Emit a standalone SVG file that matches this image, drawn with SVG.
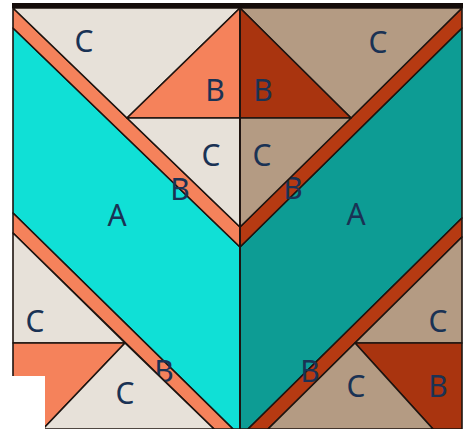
<svg xmlns="http://www.w3.org/2000/svg" width="469" height="429" viewBox="0 0 469 429">
<style>
.p{stroke:#1e1410;stroke-width:1.6;stroke-linejoin:round}
.beige{fill:#E7E1D9}.tan{fill:#B49B83}.orange{fill:#F5825B}.dred{fill:#A9340F}
.cyan{fill:#10E0D6}.teal{fill:#0D9C94}.rband{fill:#B63A12}
text{font-family:"Noto Sans","Open Sans","Liberation Sans",sans-serif;font-size:30px;fill:#1A3254;text-anchor:middle}
</style>
<rect width="469" height="429" fill="#fff"/>
<g id="A-left"><polygon class="p cyan" points="13,28 240,247 240,429 233,429 13,213"/><text x="117" y="226">A</text></g>
<g id="A-right"><polygon class="p teal" points="240,247 462,28 462,218 248,429 240,429"/><text x="356" y="225">A</text></g>
<g id="band-tl"><polygon class="p orange" points="13,8 240,227 240,247 13,28"/><text x="180" y="200">B</text></g>
<g id="band-tr"><polygon class="p rband" points="462,8 462,28 240,247 240,227"/><text x="293" y="199">B</text></g>
<g id="band-bl"><polygon class="p orange" points="13,213 233,429 214,429 13,233"/><text x="164" y="382">B</text></g>
<g id="band-br"><polygon class="p rband" points="462,218 462,237 268,429 248,429"/><text x="310" y="382">B</text></g>
<g id="C-tl-top"><polygon class="p beige" points="13,8 240,8 127,118"/><text x="84" y="52">C</text></g>
<g id="B-tl"><polygon class="p orange" points="127,118 240,8 240,118"/><text x="215" y="101">B</text></g>
<g id="C-tl-low"><polygon class="p beige" points="127,118 240,118 240,227"/><text x="211" y="166">C</text></g>
<g id="C-tr-top"><polygon class="p tan" points="240,8 462,8 351,118"/><text x="378" y="53">C</text></g>
<g id="B-tr"><polygon class="p dred" points="240,8 351,118 240,118"/><text x="263" y="101">B</text></g>
<g id="C-tr-low"><polygon class="p tan" points="240,118 351,118 240,227"/><text x="262" y="166">C</text></g>
<g id="C-bl-top"><polygon class="p beige" points="13,233 125,343 13,343"/><text x="35" y="332">C</text></g>
<g id="B-bl"><polygon class="p orange" points="13,343 125,343 43,429 13,429"/></g>
<g id="C-bl-low"><polygon class="p beige" points="125,343 214,429 43,429"/><text x="125" y="404">C</text></g>
<g id="C-br-top"><polygon class="p tan" points="462,237 355,343 462,343"/><text x="438" y="332">C</text></g>
<g id="B-br"><polygon class="p dred" points="355,343 462,343 462,429 433,429"/><text x="438" y="397">B</text></g>
<g id="C-br-low"><polygon class="p tan" points="355,343 433,429 268,429"/><text x="356" y="397">C</text></g>
<rect x="0" y="376" width="45" height="53" fill="#fff"/>
<rect x="12" y="3" width="451" height="5" fill="#140c0a"/>
<line x1="240" y1="8" x2="240" y2="429" stroke="#1e1410" stroke-width="1.8"/>
</svg>
